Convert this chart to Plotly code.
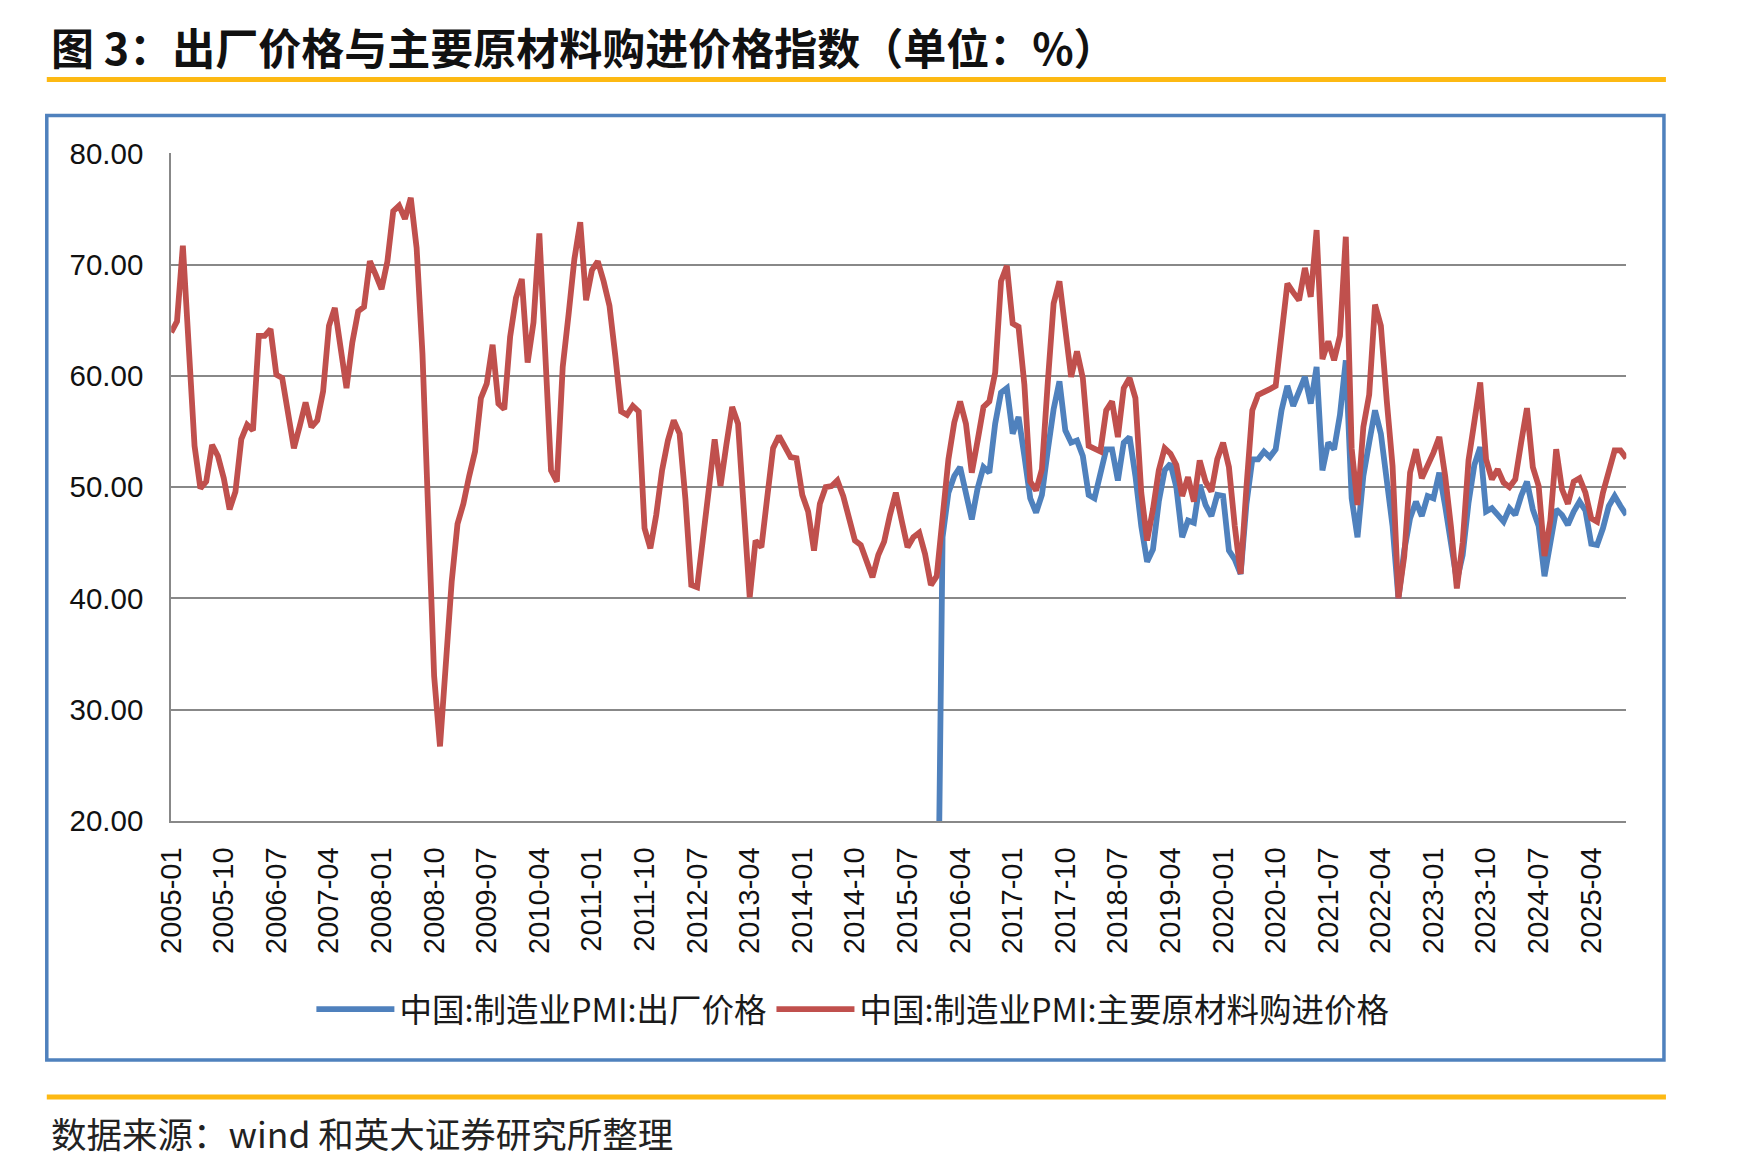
import plotly.graph_objects as go

# ---- categories (monthly, 2005-01 .. 2025-10) ----
months = [f"{y}-{m:02d}" for y in range(2005, 2026) for m in range(1, 13)][:250]
tick_labels = months[::9]

# ---- 中国:制造业PMI:主要原材料购进价格 (2005-01 .. 2025-10) ----
purchase_price = [
    63.9, 64.9, 71.7, 63.0, 53.7, 49.9, 50.5, 53.8, 52.8, 50.8, 48.0, 49.6,  # 2005
    54.3, 55.6, 55.1, 63.6, 63.6, 64.2, 60.1, 59.8, 56.5, 53.5, 55.5, 57.6,  # 2006
    55.4, 56.0, 58.6, 64.5, 66.1, 62.5, 58.9, 63.0, 65.8, 66.2, 70.3, 69.1,  # 2007
    67.8, 70.3, 74.8, 75.3, 74.1, 76.0, 71.5, 62.0, 46.5, 33.0, 26.7, 34.5,  # 2008
    41.5, 46.7, 48.5, 51.0, 53.2, 58.0, 59.3, 62.8, 57.5, 57.0, 63.5, 67.0,  # 2009
    68.7, 61.2, 64.8, 72.8, 60.8, 51.5, 50.5, 60.8, 65.5, 70.5, 73.8, 66.8,  # 2010
    69.5, 70.3, 68.5, 66.3, 61.8, 56.8, 56.5, 57.3, 56.8, 46.3, 44.5, 47.5,  # 2011
    51.5, 54.2, 56.0, 54.8, 48.9, 41.2, 41.0, 45.0, 49.8, 54.3, 50.1, 53.8,  # 2012
    57.2, 55.7, 48.1, 40.1, 45.2, 44.6, 49.1, 53.5, 54.6, 53.5, 52.7, 52.6,  # 2013
    49.3, 47.8, 44.3, 48.5, 50.0, 50.1, 50.6, 49.2, 47.2, 45.2, 44.8, 43.3,  # 2014
    41.9, 43.9, 45.1, 47.5, 49.5, 47.0, 44.6, 45.5, 45.9, 44.0, 41.2, 42.0,  # 2015
    47.1, 52.5, 55.8, 57.7, 55.7, 51.3, 54.2, 57.2, 57.7, 60.3, 68.5, 69.9,  # 2016
    64.7, 64.4, 59.2, 50.5, 49.7, 51.6, 59.4, 66.5, 68.5, 64.1, 59.9, 62.2,  # 2017
    59.8, 53.7, 53.4, 53.2, 56.9, 57.7, 54.5, 58.9, 59.8, 58.0, 49.5, 45.2,  # 2018
    48.0, 51.5, 53.5, 53.0, 52.0, 49.2, 50.9, 48.7, 52.4, 50.5, 49.6, 52.5,  # 2019
    54.0, 51.8, 46.5, 42.2, 50.0, 56.9, 58.3, 58.5, 58.8, 59.1, 63.3, 68.3,  # 2020
    67.5, 66.8, 69.7, 67.1, 73.1, 61.5, 63.1, 61.4, 63.6, 72.5, 53.5, 48.4,  # 2021
    55.4, 58.3, 66.4, 64.5, 57.8, 51.9, 40.0, 43.8, 51.3, 53.4, 50.8, 51.9,  # 2022
    53.1, 54.5, 51.0, 46.4, 40.9, 45.0, 52.4, 55.9, 59.4, 52.5, 50.7, 51.6,  # 2023
    50.4, 50.0, 50.7, 54.0, 57.1, 51.8, 50.1, 43.8, 47.0, 53.4, 49.8, 48.5,  # 2024
    50.5, 50.8, 49.5, 47.2, 46.9, 49.5, 51.5, 53.3, 53.3, 52.6,              # 2025
]

# ---- 中国:制造业PMI:出厂价格 (2015-12 .. 2025-10; 2015-12 plotted as 0 in source) ----
output_start = "2015-12"
output_price = [
    0.0,                                                                      # 2015-12
    45.5, 49.5, 51.0, 51.8, 49.5, 47.1, 49.9, 51.8, 51.3, 55.7, 58.5, 58.9,  # 2016
    54.8, 56.3, 52.8, 49.0, 47.7, 49.3, 53.3, 57.0, 59.5, 55.1, 54.0, 54.2,  # 2017
    52.8, 49.3, 49.0, 51.0, 53.4, 53.4, 50.6, 54.0, 54.5, 51.0, 46.5, 43.3,  # 2018
    44.4, 48.7, 51.5, 52.1, 50.0, 45.5, 47.0, 46.8, 50.2, 48.4, 47.4, 49.3,  # 2019
    49.2, 44.3, 43.5, 42.2, 48.5, 52.5, 52.5, 53.2, 52.7, 53.4, 56.9, 59.1,  # 2020
    57.3, 58.6, 59.9, 57.5, 60.8, 51.5, 54.0, 53.4, 56.5, 61.4, 49.0, 45.5,  # 2021
    51.0, 54.0, 56.9, 54.8, 51.0, 46.5, 40.0, 44.3, 47.2, 48.7, 47.4, 49.2,  # 2022
    49.0, 51.3, 48.3, 44.9, 41.6, 43.9, 48.6, 52.0, 53.6, 47.8, 48.1, 47.5,  # 2023
    46.9, 48.1, 47.5, 49.2, 50.5, 48.0, 46.5, 42.0, 44.7, 48.0, 47.5, 46.6,  # 2024
    47.8, 48.7, 47.9, 44.9, 44.8, 46.3, 48.3, 49.2, 48.3, 47.5,              # 2025
]
output_months = months[months.index(output_start):]

name_out = "中国:制造业PMI:出厂价格"
name_in = "中国:制造业PMI:主要原材料购进价格"
title_text = "图 3：出厂价格与主要原材料购进价格指数（单位：%）"
source_text = "数据来源：wind 和英大证券研究所整理"

W, H = 1753, 1173
BLUE = "#4F81BD"
RED = "#C0504D"
ORANGE = "#FDB913"
GRID = "#888888"
CJK = "Noto Sans CJK SC"

def px_x(v):
    return v / W

def px_y(v):
    return 1 - v / H

fig = go.Figure()
fig.add_trace(go.Scatter(x=output_months, y=output_price, mode="lines", name=name_out,
                         line=dict(color=BLUE, width=5.8)))
fig.add_trace(go.Scatter(x=months, y=purchase_price, mode="lines", name=name_in,
                         line=dict(color=RED, width=5.8)))

fig.update_layout(
    width=W, height=H,
    margin=dict(l=0, r=0, t=0, b=0),
    paper_bgcolor="white", plot_bgcolor="white",
    showlegend=True,
    legend=dict(orientation="h", x=px_x(836), xanchor="center",
                y=px_y(1013), yanchor="middle",
                font=dict(family=CJK, size=32.5, color="#1a1a1a"),
                bgcolor="rgba(0,0,0,0)", itemwidth=78),
    xaxis=dict(
        domain=[px_x(147.6), px_x(1617)],
        type="category", categoryorder="array", categoryarray=months,
        range=[0, len(months) - 1],
        tickmode="array", tickvals=tick_labels, ticktext=tick_labels,
        tickangle=-90, ticks="", showgrid=False,
        showline=True, linecolor=GRID, linewidth=1.8,
        tickfont=dict(family="Liberation Sans", size=29, color="#111111"),
        ticklabelstandoff=13,
    ),
    yaxis=dict(
        domain=[px_y(819), px_y(132)],
        range=[20, 80], tickmode="linear", tick0=20, dtick=10, tickformat=".2f",
        showgrid=True, gridcolor=GRID, gridwidth=1.8,
        showline=True, linecolor=GRID, linewidth=1.8,
        ticks="", zeroline=False,
        tickfont=dict(family="Liberation Sans", size=29.5, color="#111111"),
        ticklabelstandoff=20,
    ),
    shapes=[
        dict(type="line", xref="paper", yref="paper", x0=px_x(22), x1=px_x(1657),
             y0=px_y(56), y1=px_y(56), line=dict(color=ORANGE, width=5)),
        dict(type="rect", xref="paper", yref="paper", x0=px_x(22), x1=px_x(1655),
             y0=px_y(1065), y1=px_y(93), line=dict(color=BLUE, width=3.5),
             fillcolor="rgba(0,0,0,0)", layer="below"),
        dict(type="line", xref="paper", yref="paper", x0=px_x(22), x1=px_x(1657),
             y0=px_y(1103), y1=px_y(1103), line=dict(color=ORANGE, width=5)),
    ],
    annotations=[
        dict(text="<b>" + title_text + "</b>", xref="paper", yref="paper",
             x=px_x(24), y=px_y(22), xanchor="left", yanchor="middle", showarrow=False,
             font=dict(family=CJK, size=43, color="#111111")),
        dict(text=source_text, xref="paper", yref="paper",
             x=px_x(24), y=px_y(1140), xanchor="left", yanchor="middle", showarrow=False,
             font=dict(family=CJK, size=35.5, color="#222222")),
    ],
)

fig.write_html("out.html")
